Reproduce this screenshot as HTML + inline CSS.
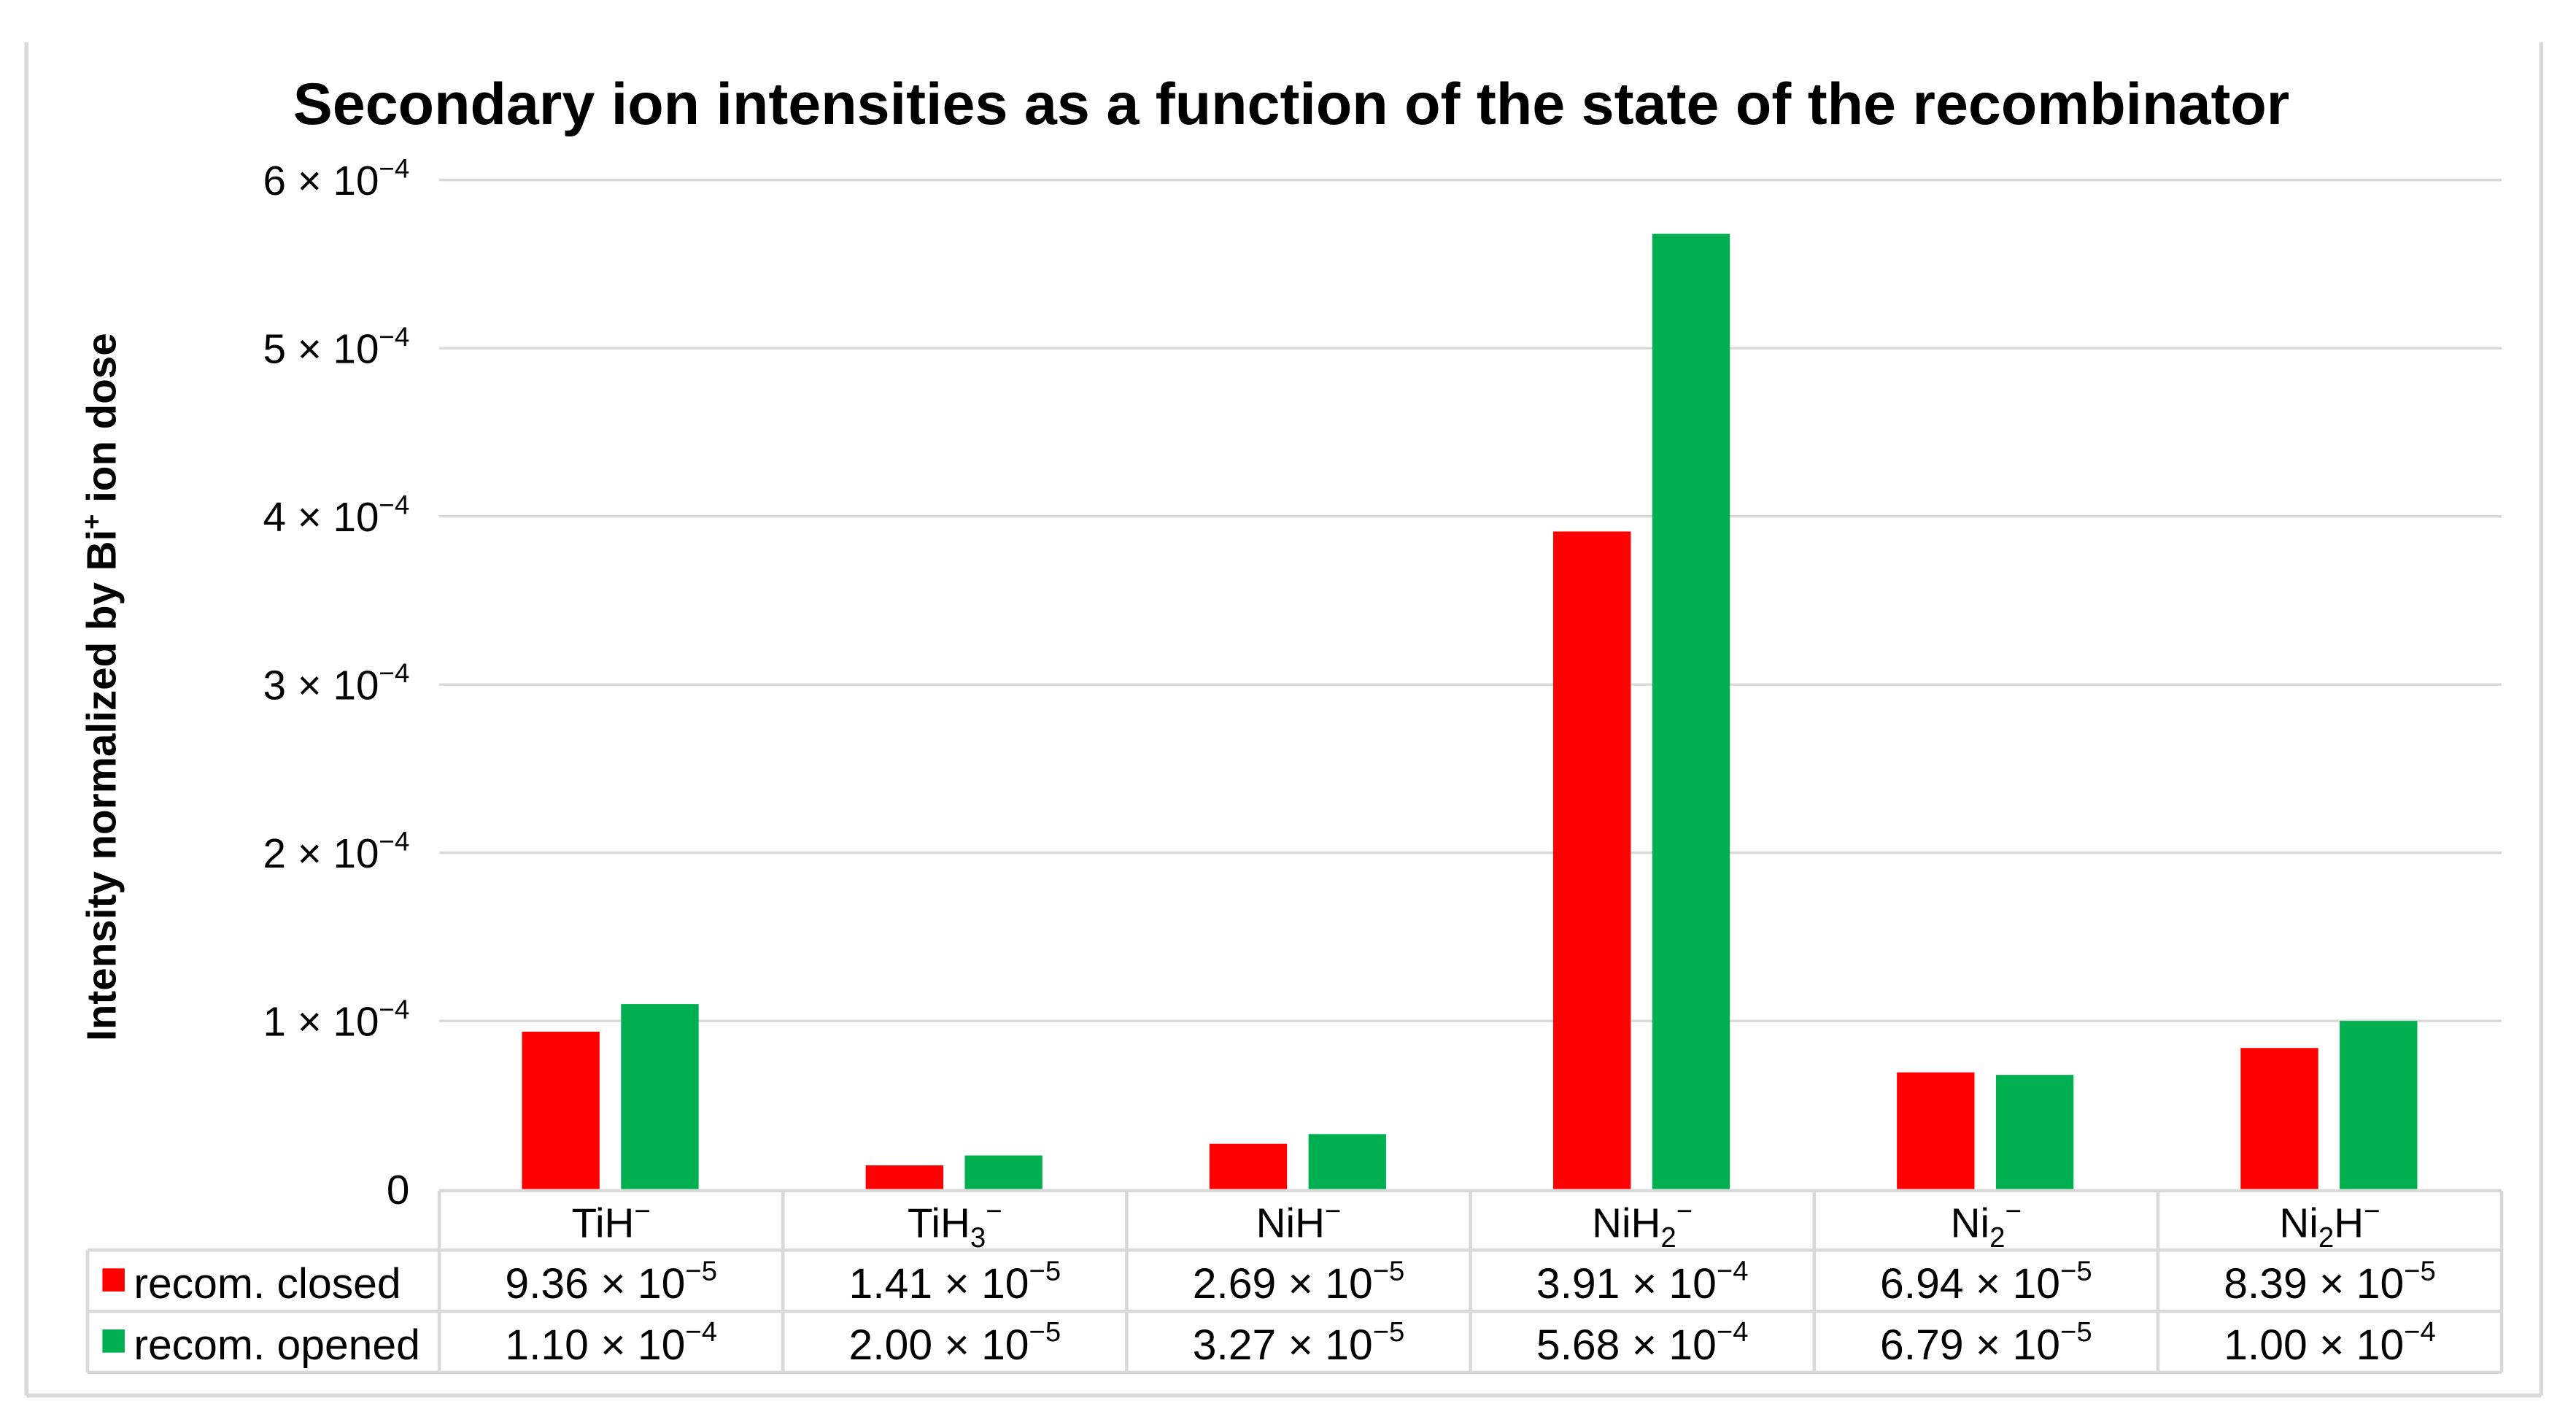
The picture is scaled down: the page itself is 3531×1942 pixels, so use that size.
<!DOCTYPE html>
<html><head><meta charset="utf-8"><style>
html,body{margin:0;padding:0;background:#fff;}
svg{display:block;}
text{font-family:"Liberation Sans",Arial,sans-serif;fill:#000;}
</style></head><body>
<svg id="chart" width="3531" height="1942" viewBox="0 0 1560 858" xmlns="http://www.w3.org/2000/svg">
<g>
<line x1="16" y1="25.6" x2="16" y2="845" stroke="#d9d9d9" stroke-width="2.5"/>
<line x1="1539" y1="25.6" x2="1539" y2="845" stroke="#d9d9d9" stroke-width="2.5"/>
<line x1="16" y1="845" x2="1539" y2="845" stroke="#d9d9d9" stroke-width="2.5"/>
</g>
<text x="782" y="75" text-anchor="middle" font-size="35.5" font-weight="bold" textLength="1209" lengthAdjust="spacingAndGlyphs">Secondary ion intensities as a function of the state of the recombinator</text>
<text transform="translate(70,416) rotate(-90)" text-anchor="middle" font-size="25" font-weight="bold">Intensity normalized by Bi<tspan dy="-9" font-size="16">+</tspan><tspan dy="9"> ion dose</tspan></text>
<g id="grid"></g><g id="bars"></g><g id="table"></g>
</svg>
<script>
const categories=["TiH|−","TiH|3|−","NiH|−","NiH|2|−","Ni|2|−","Ni|2|H−"];
const closedVals=[9.36e-5,1.41e-5,2.69e-5,3.91e-4,6.94e-5,8.39e-5];
const openedVals=[1.10e-4,2.00e-5,3.27e-5,5.68e-4,6.79e-5,1.00e-4];
const closedLabels=[["9.36","5"],["1.41","5"],["2.69","5"],["3.91","4"],["6.94","5"],["8.39","5"]];
const openedLabels=[["1.10","4"],["2.00","5"],["3.27","5"],["5.68","4"],["6.79","5"],["1.00","4"]];
const yTicks=[0,1e-4,2e-4,3e-4,4e-4,5e-4,6e-4];
const yTickMant=["0","1","2","3","4","5","6"];

const NS="http://www.w3.org/2000/svg";
const X0=266,X1=1515,Y0=720,YTOP=109,YMAX=6e-4;
const colW=(X1-X0)/categories.length;
const y=v=>Y0-(v/YMAX)*(Y0-YTOP);
const cx=i=>X0+colW*(i+0.5);
function mk(tag,attrs,parent){const e=document.createElementNS(NS,tag);for(const k in attrs)e.setAttribute(k,attrs[k]);parent.appendChild(e);return e;}
function sci(t,m,e,x,yy,fs){
  t.setAttribute('x',x);t.setAttribute('y',yy);
  const a=document.createElementNS(NS,'tspan');a.textContent=m+" × 10";t.appendChild(a);
  const b=document.createElementNS(NS,'tspan');b.setAttribute('dy',-fs*0.42);b.setAttribute('font-size',fs*0.65);b.textContent="−"+e;t.appendChild(b);
}
const grid=document.getElementById('grid');
yTicks.forEach((v,i)=>{
  if(i>0){const l=mk('line',{x1:X0,x2:X1,y1:y(v),y2:y(v),stroke:'#d9d9d9','stroke-width':1.5},grid);
  
  }
  const t=mk('text',{'text-anchor':'end','font-size':25},grid);
  
  
  if(i===0){t.setAttribute('x',248);t.setAttribute('y',y(v)+9);t.textContent="0";}
  else sci(t,yTickMant[i],"4",248,y(v)+9,25);
});
const bars=document.getElementById('bars');
categories.forEach((c,i)=>{
  const r=mk('rect',{x:cx(i)-54,y:y(closedVals[i]),width:47,height:Y0-y(closedVals[i]),fill:'#ff0000'},bars);
  
  
  const g=mk('rect',{x:cx(i)+6,y:y(openedVals[i]),width:47,height:Y0-y(openedVals[i]),fill:'#00b050'},bars);
  
  
});
const tb=document.getElementById('table');
const st={stroke:'#d9d9d9','stroke-width':2};
const R1=721,R2=757,R3=794,R4=831,LX=53;
[[X0,R1,X1,R1],[LX,R2,X1,R2],[LX,R3,X1,R3],[LX,R4,X1,R4],[LX,R2,LX,R4],[X1,R1,X1,R4]].forEach(a=>{
  const l=mk('line',Object.assign({x1:a[0],y1:a[1],x2:a[2],y2:a[3]},st),tb);
  
  
});
for(let i=0;i<=categories.length-1;i++){
  const l=mk('line',Object.assign({x1:X0+colW*i,y1:R1,x2:X0+colW*i,y2:R4},st),tb);
  
  
}
categories.forEach((c,i)=>{
  const t=mk('text',{x:cx(i),y:R1+28,'text-anchor':'middle','font-size':25},tb);
  
  
  const p=c.split('|');
  const a=document.createElementNS(NS,'tspan');a.textContent=p[0];t.appendChild(a);
  if(p.length===2){const b=document.createElementNS(NS,'tspan');b.setAttribute('dy',-10);b.setAttribute('font-size',17);b.textContent=p[1];t.appendChild(b);}
  else{const b=document.createElementNS(NS,'tspan');b.setAttribute('dy',6);b.setAttribute('font-size',17);b.textContent=p[1];t.appendChild(b);
    const d=document.createElementNS(NS,'tspan');
    if(p[2].length>1){d.setAttribute('dy',-6);d.setAttribute('font-size',25);d.textContent=p[2].slice(0,-1);t.appendChild(d);
      const e=document.createElementNS(NS,'tspan');e.setAttribute('dy',-10);e.setAttribute('font-size',17);e.textContent="−";t.appendChild(e);}
    else{d.setAttribute('dy',-16);d.setAttribute('font-size',17);d.textContent=p[2];t.appendChild(d);}}
  const t1=mk('text',{'text-anchor':'middle','font-size':26},tb);
  
  
  sci(t1,closedLabels[i][0],closedLabels[i][1],cx(i),R2+29,26);
  const t2=mk('text',{'text-anchor':'middle','font-size':26},tb);
  
  
  sci(t2,openedLabels[i][0],openedLabels[i][1],cx(i),R3+29,26);
});
[['recom. closed','#ff0000',R2],['recom. opened','#00b050',R3]].forEach(s=>{
  const g=mk('g',{},tb);
  
  
  mk('rect',{x:62,y:s[2]+11,width:13.5,height:14,fill:s[1]},g);
  const t=mk('text',{x:81,y:s[2]+29,'font-size':26},g);t.textContent=s[0];
});
</script>
</body></html>
